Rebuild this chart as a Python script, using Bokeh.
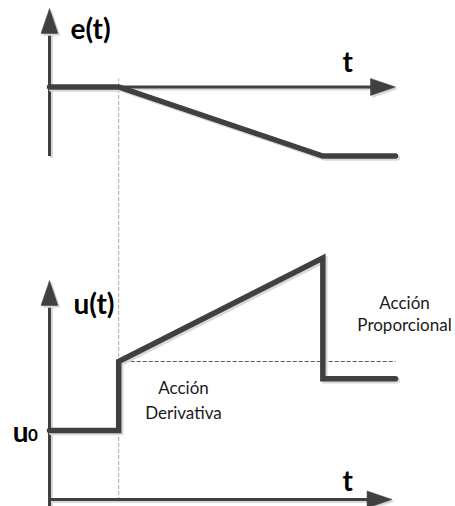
from bokeh.plotting import figure
from bokeh.models import Range1d
from bokeh.core.properties import value
from bokeh.embed import file_html
from bokeh.resources import INLINE

# ---- data (signals in time / amplitude units) ----
e_t = [0.0, 1.0, 3.95, 5.0]              # error signal e(t)
e_v = [0.0, 0.0, -1.0, -1.0]
u_t = [0.0, 1.0, 1.0, 3.95, 3.95, 5.0]   # controller output u(t)
u_v = [1.0, 1.0, 2.0, 3.5, 1.75, 1.75]
t_step = 1.0          # instant where the error starts to change
u_deriv_level = 2.0   # level reached by the derivative kick
t_end = 5.0

# ---- layout constants ----
W, H = 455, 506
PX_X = 69.2   # pixels per time unit
PX_Y = 69.0   # pixels per amplitude unit
X0 = 49.0     # canvas x of t = 0
U0_Y = 7.0    # canvas px from bottom of u = 0
E0_Y = 419.5  # canvas px from bottom of e = 0
SDX, SDY = 2.0 / PX_X, -2.0 / PX_Y   # shadow offset

DARK = "#404040"
SHADOW = "#d9d9d9"
FONT = "Lato"

p = figure(width=W, height=H, output_backend="svg", toolbar_location=None,
           x_range=Range1d(-X0 / PX_X, (W - X0) / PX_X),
           y_range=Range1d(-U0_Y / PX_Y, (H - U0_Y) / PX_Y),
           min_border=0, outline_line_color=None)
p.extra_y_ranges = {"e": Range1d(-E0_Y / PX_Y, (H - E0_Y) / PX_Y)}
p.xaxis.visible = False
p.yaxis.visible = False
p.grid.visible = False
p.background_fill_color = "white"
p.border_fill_color = "white"


def shadowed_line(xs, ys, width, yname="default", **kw):
    p.line([x + SDX for x in xs], [y + SDY for y in ys], line_color=SHADOW,
           line_width=width, y_range_name=yname, **kw)
    p.line(xs, ys, line_color=DARK, line_width=width, y_range_name=yname, **kw)


def arrow_axis(x0, y0, x1, y1, yname="default"):
    """axis line with a filled triangular head at (x1, y1)"""
    L, HW = 25.0, 8.5
    if y0 == y1:  # horizontal
        base = x1 - L / PX_X
        xs = [x1, base, base]
        ys = [y1, y1 + HW / PX_Y, y1 - HW / PX_Y]
        shadowed_line([x0, base + 2 / PX_X], [y0, y1], 3, yname)
    else:  # vertical
        base = y1 - L / PX_Y
        xs = [x1, x1 - HW / PX_X, x1 + HW / PX_X]
        ys = [y1, base, base]
        shadowed_line([x0, x1], [y0, base + 2 / PX_Y], 3, yname)
    p.patch([x + SDX for x in xs], [y + SDY for y in ys], fill_color=SHADOW,
            line_color=SHADOW, line_width=0.5, y_range_name=yname)
    p.patch(xs, ys, fill_color=DARK, line_color=DARK, line_width=0.5, y_range_name=yname)


# dashed helper lines
p.line([t_step, t_step], [-0.02, 6.1], line_color="#a6a6a6", line_width=1, line_dash="4 2")
p.line([t_step, t_end], [u_deriv_level, u_deriv_level], line_color="#595959",
       line_width=1, line_dash="4 2")

# axes (top panel e, bottom panel u)
arrow_axis(0, -1.0, 0, 1.138, "e")
arrow_axis(0, 0, t_end, 0, "e")
arrow_axis(0, -0.1, 0, 3.174)
arrow_axis(0, 0, 4.95, 0)

# signals
shadowed_line(e_t, e_v, 5.5, "e", line_join="miter", line_cap="round")
shadowed_line(u_t, u_v, 5.5, line_join="miter", line_cap="round")

# bold labels
bold = dict(text_font=value(FONT), text_font_style="bold", text_color="black")
p.text(x=[0.303], y=[0.855], text=["e(t)"], text_font_size="28px",
       text_baseline="middle", text_align="left", y_range_name="e", **bold)
p.text(x=[4.31], y=[0.377], text=["t"], text_font_size="28px",
       text_baseline="middle", text_align="center", y_range_name="e", **bold)
p.text(x=[0.347], y=[2.855], text=["u(t)"], text_font_size="28px",
       text_baseline="middle", text_align="left", **bold)
p.text(x=[4.31], y=[0.283], text=["t"], text_font_size="28px",
       text_baseline="middle", text_align="center", **bold)
p.text(x=[-0.53], y=[1.0], text=["u"], text_font_size="28px",
       text_baseline="middle", text_align="left", **bold)
p.text(x=[-0.31], y=[0.94], text=["0"], text_font_size="17px",
       text_baseline="middle", text_align="left", **bold)

# annotation texts
norm = dict(text_font=value(FONT), text_color="#1a1a1a", text_font_size="17px",
            text_align="center", text_baseline="alphabetic")
p.text(x=[1.936, 1.936], y=[1.62, 1.26], text=["Acción", "Derivativa"], **norm)
p.text(x=[5.13, 5.13], y=[2.855, 2.535], text=["Acción", "Proporcional"], **norm)

open("out.html", "w").write(file_html(p, INLINE))
